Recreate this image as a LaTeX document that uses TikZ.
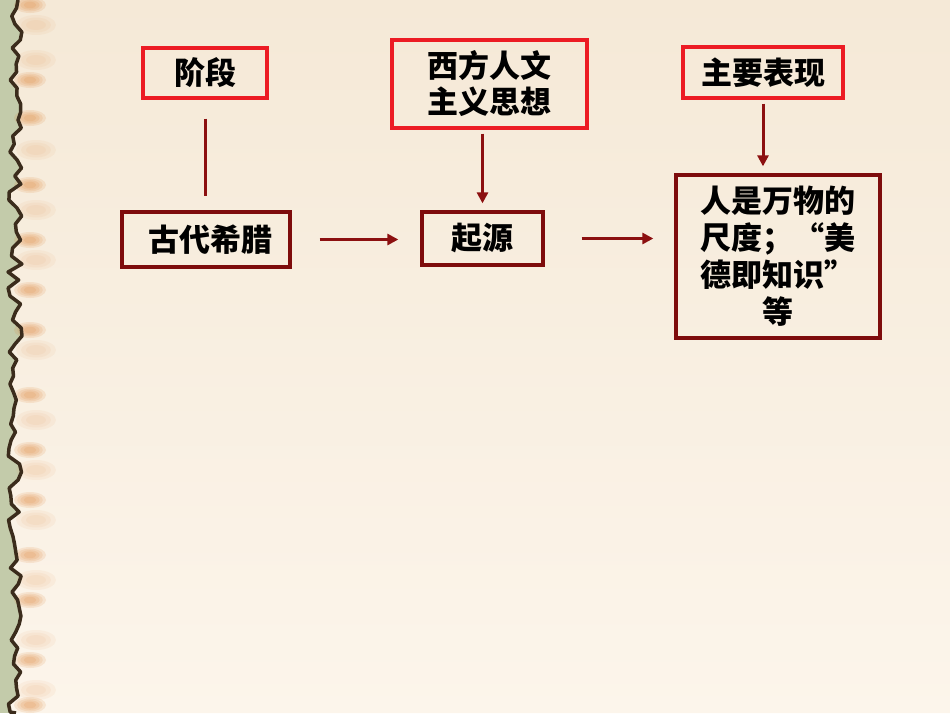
\documentclass[tikz,border=0pt]{standalone}
\usepackage{fontspec}
\newfontfamily\cjk{Noto Sans CJK SC}
\usetikzlibrary{arrows.meta}
\definecolor{paper}{HTML}{FCF5EB}
\definecolor{papertop}{HTML}{F5E9D7}
\definecolor{strip}{HTML}{C3CBAA}
\definecolor{burnt}{HTML}{3B2C1C}
\definecolor{smudge}{HTML}{DC7A28}
\definecolor{brightred}{HTML}{EC1C24}
\definecolor{darkred}{HTML}{7E0C0C}
\definecolor{linkred}{HTML}{8C1010}
\tikzset{
  boxbase/.style={line width=3.3pt, inner sep=0pt, align=center, text=black,
    font=\cjk\bfseries\fontsize{31}{30}\selectfont},
  redbox/.style={boxbase, draw=brightred},
  darkbox/.style={boxbase, draw=darkred},
  link/.style={draw=linkred, line width=3pt},
  arrowlink/.style={link, -{Triangle[length=11pt,width=11pt]}},
}
\begin{document}
\begin{tikzpicture}[x=1pt,y=-1pt]
\useasboundingbox (0,0) rectangle (950,713);
% background
\fill[strip] (0,0) rectangle (30,713);
\pgfmathsetseed{7}
\shade[top color=papertop, bottom color=paper] (950,0) -- (18,0)
  \foreach \i in {1,...,89}{ -- ({15+7*rand},{\i*8}) } -- (16,713) -- (950,713) -- cycle;
% scorch smudges
\foreach \y in {5,80,118,185,240,290,330,395,450,500,555,600,660,705}{
  \foreach \r in {1,0.8,0.6,0.4}{
    \fill[smudge, opacity=0.13] (30,\y) ellipse ({16*\r} and {8*\r});
  }
}
\foreach \y in {25,60,150,210,260,350,420,470,520,580,640,690}{
  \foreach \r in {1,0.75,0.5}{
    \fill[smudge!70, opacity=0.09] (36,\y) ellipse ({20*\r} and {10*\r});
  }
}
\pgfmathsetseed{7}
\draw[burnt, line width=3.5pt, line join=round] (18,0)
  \foreach \i in {1,...,89}{ -- ({15+7*rand},{\i*8}) } -- (16,713);
% nodes
\node[redbox, minimum width=124pt, minimum height=50pt] (jd) at (205,73) {阶段};
\node[redbox, minimum width=195pt, minimum height=88pt,
  font=\cjk\bfseries\fontsize{31}{36}\selectfont] (xf) at (489.5,84) {西方人文\\主义思想};
\node[redbox, minimum width=160pt, minimum height=51pt] (zy) at (763,72.5) {主要表现};
\node[darkbox, minimum width=168pt, minimum height=55pt] (gd) at (206,239.5) {\hspace{8pt}古代希腊};
\node[darkbox, minimum width=204pt, minimum height=163pt,
  font=\cjk\bfseries\fontsize{31}{37}\selectfont] (big) at (778,256.5)
  {人是万物的\\尺度；“美\\德即知识”\\等};
\node[darkbox, minimum width=121pt, minimum height=53pt] (qy) at (482.5,238.5) {起源};
% connectors
\draw[link, shorten <=19pt, shorten >=14pt] (jd.south) -- (jd.south |- gd.north);
\draw[arrowlink, shorten <=28pt, shorten >=22pt] (gd.east) -- (gd.east -| qy.west);
\draw[arrowlink, shorten <=4pt, shorten >=7pt] (xf.south -| qy.north) -- (qy.north);
\draw[arrowlink, shorten <=37pt, shorten >=21pt] (qy.east) -- (qy.east -| big.west);
\draw[arrowlink, shorten <=4pt, shorten >=7pt] (zy.south) -- (zy.south |- big.north);
\end{tikzpicture}
\end{document}
